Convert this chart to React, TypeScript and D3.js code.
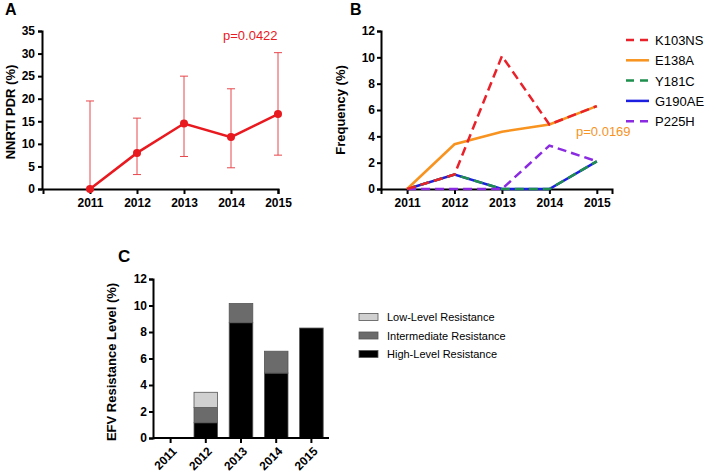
import React, { useEffect, useRef } from "react";
import * as d3 from "d3";

// panel A
const years = [2011, 2012, 2013, 2014, 2015];
const pdrValues = [0, 8, 14.5, 11.5, 16.6];
const pdrLow = [0, 3.2, 7.2, 4.7, 7.5];
const pdrHigh = [19.5, 15.7, 25, 22.2, 30.2];

// panel B
const mutNames = ["K103NS", "E138A", "Y181C", "G190AE", "P225H"];
const mutColors = ["#e8212a", "#f7931e", "#1f8f4e", "#1c1ee0", "#8a2be2"];
const mutDashed = [true, false, true, false, true];
const k103ns = [0, 1.1, 10.1, 4.9, 6.3];
const e138a = [0, 3.4, 4.35, 4.9, 6.3];
const y181c = [0, 1.1, 0, 0, 2.1];
const g190ae = [0, 1.1, 0, 0, 2.1];
const p225h = [0, 0, 0, 3.3, 2.1];
const mutSeries = [k103ns, e138a, y181c, g190ae, p225h];
// drawing order, bottom to top
const drawOrder = [3, 2, 4, 1, 0];

// panel C
const levelNames = ["Low-Level Resistance", "Intermediate Resistance", "High-Level Resistance"];
const levelColors = ["#d0d0d0", "#6b6b6b", "#000000"];
const highLevel = [0, 1.15, 8.7, 4.9, 8.3];
const interLevel = [0, 1.15, 1.45, 1.65, 0];
const lowLevel = [0, 1.15, 0, 0, 0];

const FONT = "'Liberation Sans', Arial, sans-serif";

function styleAxis(g: any) {
  g.selectAll("path").attr("stroke", "#000").attr("stroke-width", 2);
  g.selectAll("line").attr("stroke", "#000").attr("stroke-width", 2);
  g.selectAll("text")
    .attr("font-family", FONT)
    .attr("font-weight", "bold")
    .attr("font-size", 12)
    .attr("fill", "#000");
}

export default function App() {
  const ref = useRef<SVGSVGElement>(null);

  useEffect(() => {
    const svg = d3.select(ref.current);
    svg.selectAll("*").remove();

    // ---------- A ----------
    const xA = d3.scaleLinear().domain([2010, 2015]).range([43, 278]);
    const yA = d3.scaleLinear().domain([0, 35]).range([189, 31]);
    const gA = svg.append("g");

    gA.append("g")
      .attr("transform", "translate(42,0)")
      .call(d3.axisLeft(yA).tickValues(d3.range(0, 36, 5)).tickSizeOuter(0).tickSize(4).tickPadding(3))
      .call(styleAxis);
    gA.append("g")
      .attr("transform", "translate(0,189)")
      .call(d3.axisBottom(xA).tickValues(years).tickFormat(d3.format("d")).tickSizeOuter(0).tickSize(5).tickPadding(4))
      .call(styleAxis);

    // error bars
    years.forEach((yr, i) => {
      const x = xA(yr);
      const eb = gA.append("g").attr("stroke", "#e8474c").attr("stroke-width", 1);
      eb.append("line").attr("x1", x).attr("x2", x).attr("y1", yA(pdrLow[i])).attr("y2", yA(pdrHigh[i]));
      eb.append("line").attr("x1", x - 4).attr("x2", x + 4).attr("y1", yA(pdrHigh[i])).attr("y2", yA(pdrHigh[i]));
      eb.append("line").attr("x1", x - 4).attr("x2", x + 4).attr("y1", yA(pdrLow[i])).attr("y2", yA(pdrLow[i]));
    });

    gA.append("path")
      .datum(pdrValues)
      .attr("fill", "none")
      .attr("stroke", "#e8191f")
      .attr("stroke-width", 2.5)
      .attr("d", d3.line<number>().x((d, i) => xA(years[i])).y(d => yA(d)));
    gA.selectAll("circle.pt")
      .data(pdrValues)
      .enter()
      .append("circle")
      .attr("cx", (d, i) => xA(years[i]))
      .attr("cy", d => yA(d))
      .attr("r", 4)
      .attr("fill", "#e8191f");

    gA.append("text").attr("x", 223).attr("y", 40).text("p=0.0422")
      .attr("font-family", FONT).attr("font-size", 13).attr("fill", "#e8191f");
    gA.append("text").attr("transform", "translate(15,112) rotate(-90)").attr("text-anchor", "middle")
      .text("NNRTI PDR (%)").attr("font-family", FONT).attr("font-weight", "bold").attr("font-size", 13);
    gA.append("text").attr("x", 5).attr("y", 15).text("A")
      .attr("font-family", FONT).attr("font-weight", "bold").attr("font-size", 16);

    // ---------- B ----------
    const xB = d3.scaleLinear().domain([2010.45, 2015.32]).range([381, 612]);
    const yB = d3.scaleLinear().domain([0, 12]).range([189, 31]);
    const gB = svg.append("g");

    gB.append("g")
      .attr("transform", "translate(381,0)")
      .call(d3.axisLeft(yB).tickValues(d3.range(0, 13, 2)).tickSizeOuter(0).tickSize(4).tickPadding(2))
      .call(styleAxis);
    gB.append("g")
      .attr("transform", "translate(0,189)")
      .call(d3.axisBottom(xB).tickValues(years).tickFormat(d3.format("d")).tickSizeOuter(0).tickSize(5).tickPadding(4))
      .call(styleAxis);

    const lineB = d3.line<number>().x((d, i) => xB(years[i])).y(d => yB(d));
    drawOrder.forEach(k => {
      gB.append("path")
        .datum(mutSeries[k])
        .attr("fill", "none")
        .attr("stroke", mutColors[k])
        .attr("stroke-width", 2.5)
        .attr("stroke-dasharray", mutDashed[k] ? "9,5" : null)
        .attr("d", lineB);
    });

    mutNames.forEach((name, k) => {
      const y = 40 + k * 20.3;
      gB.append("line").attr("x1", 626).attr("x2", 649).attr("y1", y).attr("y2", y)
        .attr("stroke", mutColors[k]).attr("stroke-width", 2.5)
        .attr("stroke-dasharray", mutDashed[k] ? "8,6" : null);
      gB.append("text").attr("x", 655).attr("y", y + 5).text(name)
        .attr("font-family", FONT).attr("font-size", 13).attr("fill", "#000");
    });

    gB.append("text").attr("x", 576).attr("y", 136).text("p=0.0169")
      .attr("font-family", FONT).attr("font-size", 13).attr("fill", "#f7931e");
    gB.append("text").attr("transform", "translate(345,110) rotate(-90)").attr("text-anchor", "middle")
      .text("Frequency (%)").attr("font-family", FONT).attr("font-weight", "bold").attr("font-size", 13);
    gB.append("text").attr("x", 350).attr("y", 15).text("B")
      .attr("font-family", FONT).attr("font-weight", "bold").attr("font-size", 16);

    // ---------- C ----------
    const xC = d3.scaleBand<number>().domain(years).range([153, 329]).paddingInner(0.33).paddingOuter(0.165);
    const yC = d3.scaleLinear().domain([0, 12]).range([438, 279]);
    const gC = svg.append("g");

    const stackData = years.map((yr, i) => ({ year: yr, high: highLevel[i], inter: interLevel[i], low: lowLevel[i] }));
    const stacked = d3.stack<any>().keys(["high", "inter", "low"])(stackData);
    const keyColor: Record<string, string> = { high: levelColors[2], inter: levelColors[1], low: levelColors[0] };
    stacked.forEach(layer => {
      gC.append("g")
        .selectAll("rect")
        .data(layer.filter(d => d[1] - d[0] > 0))
        .enter()
        .append("rect")
        .attr("x", d => xC(d.data.year) as number)
        .attr("width", xC.bandwidth())
        .attr("y", d => yC(d[1]))
        .attr("height", d => yC(d[0]) - yC(d[1]))
        .attr("fill", keyColor[layer.key])
        .attr("stroke", "#555")
        .attr("stroke-width", 0.8);
    });

    gC.append("g")
      .attr("transform", "translate(153,0)")
      .call(d3.axisLeft(yC).tickValues(d3.range(0, 13, 2)).tickSizeOuter(0).tickSize(4).tickPadding(2))
      .call(styleAxis);
    const axC = gC.append("g")
      .attr("transform", "translate(0,438)")
      .call(d3.axisBottom(xC).tickFormat(d3.format("d")).tickSizeOuter(0).tickSize(5))
      .call(styleAxis);
    axC.select("path.domain").attr("d", "M153,0H329");
    axC.selectAll("text")
      .attr("text-anchor", "end")
      .attr("dy", null)
      .attr("y", 0)
      .attr("transform", "translate(7,14) rotate(-45)");

    levelNames.forEach((name, k) => {
      const y = 317 + k * 18.5;
      gC.append("rect").attr("x", 359).attr("y", y - 3.5).attr("width", 19).attr("height", 7)
        .attr("fill", levelColors[k]).attr("stroke", "#555").attr("stroke-width", 0.8);
      gC.append("text").attr("x", 387).attr("y", y + 4).text(name)
        .attr("font-family", FONT).attr("font-size", 11).attr("fill", "#000");
    });

    gC.append("text").attr("transform", "translate(116,362) rotate(-90)").attr("text-anchor", "middle")
      .text("EFV Resistance Level (%)").attr("font-family", FONT).attr("font-weight", "bold").attr("font-size", 13);
    gC.append("text").attr("x", 118).attr("y", 262).text("C")
      .attr("font-family", FONT).attr("font-weight", "bold").attr("font-size", 17);
  }, []);

  return (
    <svg
      ref={ref}
      width={705}
      height={472}
      style={{ position: "absolute", left: 0, top: 0, background: "#fff" }}
    />
  );
}
